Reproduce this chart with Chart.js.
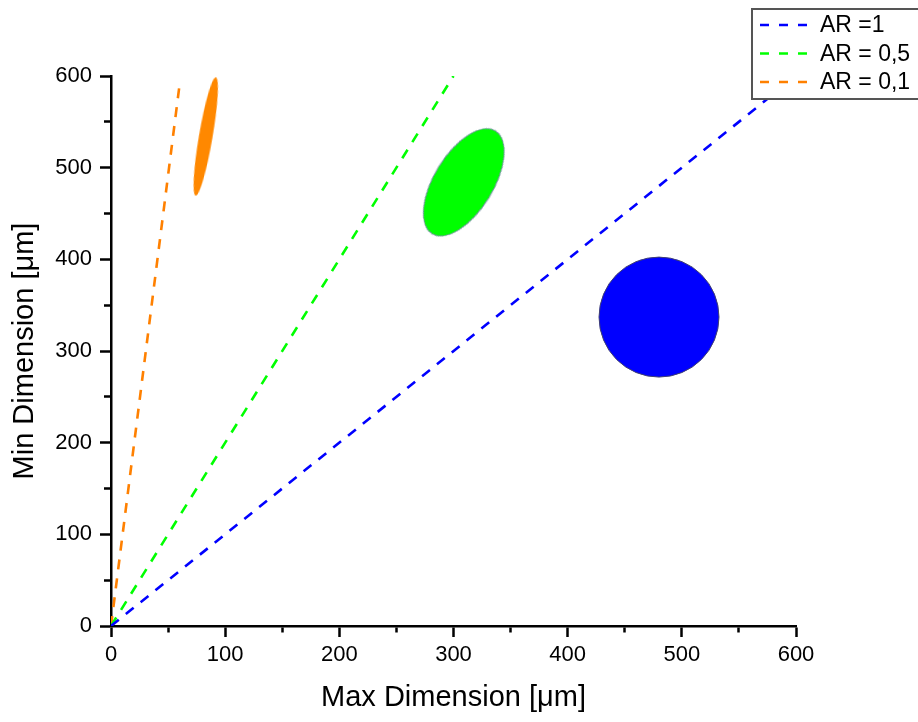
<!DOCTYPE html>
<html><head><meta charset="utf-8">
<script src="https://cdn.jsdelivr.net/npm/chart.js@4.4.1/dist/chart.umd.min.js"></script>
<style>html,body{margin:0;padding:0;background:#fff;}canvas{display:block;}</style>
</head><body>
<canvas id="c" width="918" height="722"></canvas>
<script>
// ---- data ----
const lineLabels = ['AR =1', 'AR = 0,5', 'AR = 0,1'];
const lineColors = ['#0000FF', '#00FF00', '#FF8000'];
const lineAR1  = [{x: 0, y: 0}, {x: 600, y: 600}];
const lineAR05 = [{x: 0, y: 0}, {x: 300, y: 600}];
const lineAR01 = [{x: 0, y: 0}, {x: 60, y: 590}];
const particleAR1  = [{x: 480, y: 337}];
const particleAR05 = [{x: 309, y: 484}];
const particleAR01 = [{x: 83, y: 534}];
const xTickLabels = [0, 100, 200, 300, 400, 500, 600];
const yTickLabels = [0, 100, 200, 300, 400, 500, 600];

const FONT = 'Liberation Sans';

function ellipseImage(a, b, fill, stroke) {
  const c = document.createElement('canvas');
  c.width = Math.ceil(2 * b + 4);
  c.height = Math.ceil(2 * a + 4);
  const g = c.getContext('2d');
  g.beginPath();
  g.ellipse(c.width / 2, c.height / 2, b, a, 0, 0, Math.PI * 2);
  g.fillStyle = fill;
  g.fill();
  if (stroke) { g.lineWidth = 1; g.strokeStyle = stroke; g.stroke(); }
  return c;
}

const legendBox = {
  id: 'legendBox',
  afterDraw(chart) {
    const ctx = chart.ctx;
    const area = chart.chartArea;
    const bx = area.right - 44, by = 9, bw = 200, bh = 90;
    ctx.save();
    ctx.fillStyle = '#ffffff';
    ctx.fillRect(bx, by, bw, bh);
    ctx.strokeStyle = '#555555';
    ctx.lineWidth = 2;
    ctx.strokeRect(bx, by, bw, bh);
    const items = chart.data.datasets.filter(d => d.showLine);
    items.forEach((d, i) => {
      const y = by + 16 + i * 28.5;
      ctx.beginPath();
      ctx.setLineDash([9, 10]);
      ctx.lineWidth = 2.6;
      ctx.strokeStyle = d.borderColor;
      ctx.moveTo(bx + 8, y);
      ctx.lineTo(bx + 57, y);
      ctx.stroke();
      ctx.setLineDash([]);
      ctx.fillStyle = '#000';
      ctx.font = '23px "' + FONT + '"';
      ctx.textBaseline = 'middle';
      ctx.fillText(d.label, bx + 68, y + 1);
    });
    ctx.restore();
  }
};

function lineDs(label, data, color) {
  return { label, data, showLine: true, borderColor: color, backgroundColor: color,
    borderWidth: 2.6, borderDash: [10, 9], pointRadius: 0, fill: false, order: 1 };
}

const tickDashX = ctx => (ctx.tick && xTickLabels.indexOf(ctx.tick.value) < 0) ? [5, 100] : [];
const tickDashY = ctx => (ctx.tick && yTickLabels.indexOf(ctx.tick.value) < 0) ? [0, 4, 6, 100] : [];

new Chart(document.getElementById('c'), {
  type: 'scatter',
  data: {
    datasets: [
      lineDs(lineLabels[0], lineAR1, lineColors[0]),
      lineDs(lineLabels[1], lineAR05, lineColors[1]),
      lineDs(lineLabels[2], lineAR01, lineColors[2]),
      { label: 'p1', data: particleAR1, pointStyle: 'circle', pointRadius: 60,
        pointBackgroundColor: '#0000FF', pointBorderColor: '#404070', pointBorderWidth: 1, order: 2 },
      { label: 'p05', data: particleAR05, pointStyle: ellipseImage(60.5, 29.5, '#00FF00', '#7090a0'),
        pointRotation: 31.6, pointRadius: 30, order: 2 },
      { label: 'p01', data: particleAR01, pointStyle: ellipseImage(60, 6.8, '#FF8800', null),
        pointRotation: 9.7, pointRadius: 10, order: 2 }
    ]
  },
  options: {
    responsive: false,
    animation: false,
    events: [],
    layout: { padding: { top: 76, right: 122, left: 0, bottom: 0 } },
    plugins: { legend: { display: false }, tooltip: { enabled: false } },
    scales: {
      x: {
        type: 'linear', min: 0, max: 600,
        afterFit: s => { s.height = 96; },
        ticks: { stepSize: 50, autoSkip: false, maxRotation: 0, padding: 5, color: '#000',
          font: { family: FONT, size: 22 },
          callback: v => xTickLabels.indexOf(v) >= 0 ? String(v) : '' },
        grid: { drawOnChartArea: false, tickLength: 11, tickWidth: 2.5, tickColor: '#000', tickBorderDash: tickDashX },
        border: { color: '#000', width: 2.5 },
        title: { display: true, text: 'Max Dimension [μm]', color: '#000',
          font: { family: FONT, size: 29 }, padding: { top: 0, bottom: 7 } }
      },
      y: {
        type: 'linear', min: 0, max: 600,
        afterFit: s => { s.width = 111; },
        ticks: { stepSize: 50, autoSkip: false, padding: 8, color: '#000',
          font: { family: FONT, size: 22 },
          callback: v => yTickLabels.indexOf(v) >= 0 ? String(v) : '' },
        grid: { drawOnChartArea: false, tickLength: 11, tickWidth: 2.5, tickColor: '#000', tickBorderDash: tickDashY },
        border: { color: '#000', width: 2.5 },
        title: { display: true, text: 'Min Dimension [μm]', color: '#000',
          font: { family: FONT, size: 29 }, padding: { top: 8, bottom: 0 } }
      }
    }
  },
  plugins: [legendBox]
});
</script>
</body></html>
